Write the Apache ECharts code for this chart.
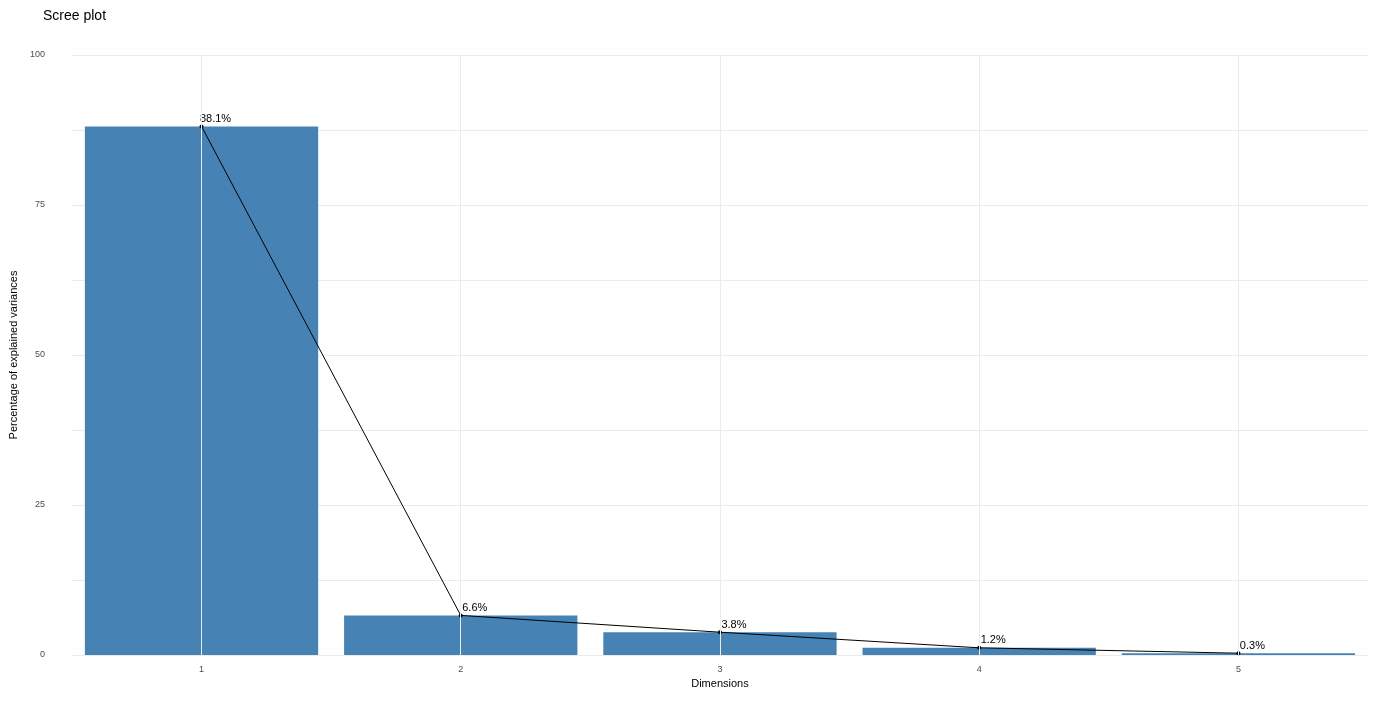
<!DOCTYPE html>
<html><head><meta charset="utf-8">
<script src="https://cdn.jsdelivr.net/npm/echarts@6/dist/echarts.min.js"></script>
<style>html,body{margin:0;background:#fff}#c{width:1400px;height:720px}</style>
</head><body><div id="c"></div>
<script>
const dims = ['1', '2', '3', '4', '5'];
const variances = [88.1, 6.6, 3.8, 1.2, 0.3];
const labels = ['88.1%', '6.6%', '3.8%', '1.2%', '0.3%'];

const chart = echarts.init(document.getElementById('c'));
chart.setOption({
  animation: false,
  title: { text: 'Scree plot', left: 38, top: 4, textStyle: { fontSize: 14, fontWeight: 'normal', color: '#000', fontFamily: 'Liberation Sans' } },
  grid: { left: 65, right: 32, top: 55, bottom: 65 },
  xAxis: {
    type: 'category', data: dims,
    name: 'Dimensions', nameLocation: 'middle', nameGap: 22,
    nameTextStyle: { fontSize: 11, color: '#000', fontFamily: 'Liberation Sans' },
    axisLine: { show: false }, axisTick: { show: false },
    axisLabel: { fontSize: 9, color: '#4d4d4d', margin: 10 }
  },
  yAxis: {
    type: 'value', min: 0, max: 100, interval: 12.5,
    name: 'Percentage of explained variances', nameLocation: 'middle', nameGap: 52,
    nameTextStyle: { fontSize: 11, color: '#000', fontFamily: 'Liberation Sans' },
    axisLine: { show: false },
    axisTick: { show: false },
    axisLabel: { fontSize: 9, color: '#4d4d4d', margin: 27,
      formatter: v => (v % 25 === 0 ? String(v) : '') },
    splitLine: { lineStyle: { color: '#ebebeb' } }
  },
  series: [
    {
      type: 'line', data: [], z: 0, silent: true,
      markLine: { symbol: 'none', silent: true, label: { show: false },
        lineStyle: { color: '#ebebeb', type: 'solid', width: 1 },
        data: dims.map(d => ({ xAxis: d })) }
    },
    {
      type: 'bar', data: variances, barWidth: '90%', z: 2,
      itemStyle: { color: '#4682b4' }
    },
    {
      type: 'line', data: variances, z: 3,
      symbol: 'circle', symbolSize: 4,
      lineStyle: { color: '#000', width: 1 },
      itemStyle: { color: '#000' },
      label: { show: true, position: 'top', distance: 0, offset: [14, 0],
        formatter: p => labels[p.dataIndex], fontSize: 11, color: '#000', fontFamily: 'Liberation Sans' }
    }
  ]
});
</script></body></html>
